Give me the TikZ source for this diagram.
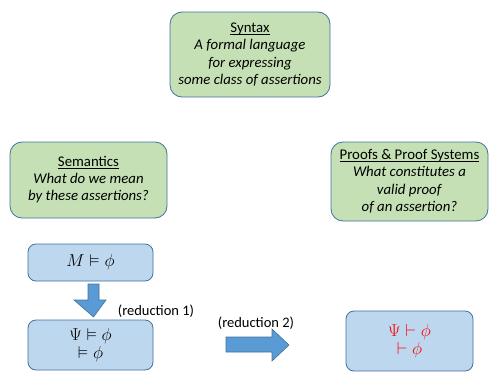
\documentclass[tikz,border=0pt]{standalone}
\usepackage{amssymb}
\usepackage{fontspec}
\setmainfont{Carlito}
\newcommand\headul[1]{\underline{\smash{#1}}\vphantom{Ag}}
\begin{document}
\begin{tikzpicture}[x=1pt,y=-1pt,
  greenbox/.style={draw=boxborder,line width=0.8pt,fill=boxgreen,rounded corners=12pt,align=center,font=\fontsize{14.8}{17.3}\selectfont,inner sep=0pt},
  bluebox/.style={draw=boxborder,line width=0.8pt,fill=boxblue,rounded corners=8pt,align=center,font=\fontsize{17}{18}\selectfont,inner sep=0pt},
  fatarrow/.style={draw=boxborder,line width=0.6pt,fill=arrowblue},
  lbl/.style={font=\fontsize{14.5}{16}\selectfont,inner sep=0pt}]
\definecolor{boxgreen}{HTML}{C5E0B4}
\definecolor{boxblue}{HTML}{BDD7EE}
\definecolor{boxborder}{HTML}{41719C}
\definecolor{arrowblue}{HTML}{5B9BD5}
\definecolor{redtext}{HTML}{FF0000}
\useasboundingbox (0,0) rectangle (490,372);
\node[greenbox,minimum width=160pt,minimum height=85pt] (syn) at (250,54.5)
  {\headul{Syntax}\\ \textit{A formal language}\\ \textit{for expressing}\\ \textit{some class of assertions}};
\node[greenbox,minimum width=157pt,minimum height=76pt] (sem) at (88.5,180)
  {\headul{Semantics}\\ \textit{What do we mean}\\ \textit{by these assertions?}};
\node[greenbox,minimum width=157pt,minimum height=79pt] (prf) at (409.5,181.5)
  {\headul{Proofs \& Proof Systems}\\ \textit{What constitutes a}\\ \textit{valid proof}\\ \textit{of an assertion?}};
\node[bluebox,minimum width=125pt,minimum height=37pt] (m) at (90.5,262.5) {$M\vDash\phi$};
\node[bluebox,minimum width=125pt,minimum height=50pt] (psi) at (90.5,345) {$\Psi\vDash\phi$\\ $\vDash\phi$};
\node[bluebox,minimum width=127pt,minimum height=60pt,text=redtext] (res) at (409.5,341) {$\Psi\vdash\phi$\\ $\vdash\phi$};
% down arrow between m and psi
\draw[fatarrow] (88,284) -- (99,284) -- (99,300) -- (106,300) -- (93.5,317) -- (74,300) -- (88,300) -- cycle;
\node[lbl] (r1) at (156,311) {(reduction 1)};
% right arrow between psi and res
\draw[fatarrow] (226,337) -- (272,337) -- (272,329) -- (289,345) -- (272,361) -- (272,352) -- (226,352) -- cycle;
\node[lbl] (r2) at (256,323) {(reduction 2)};
\end{tikzpicture}
\end{document}
